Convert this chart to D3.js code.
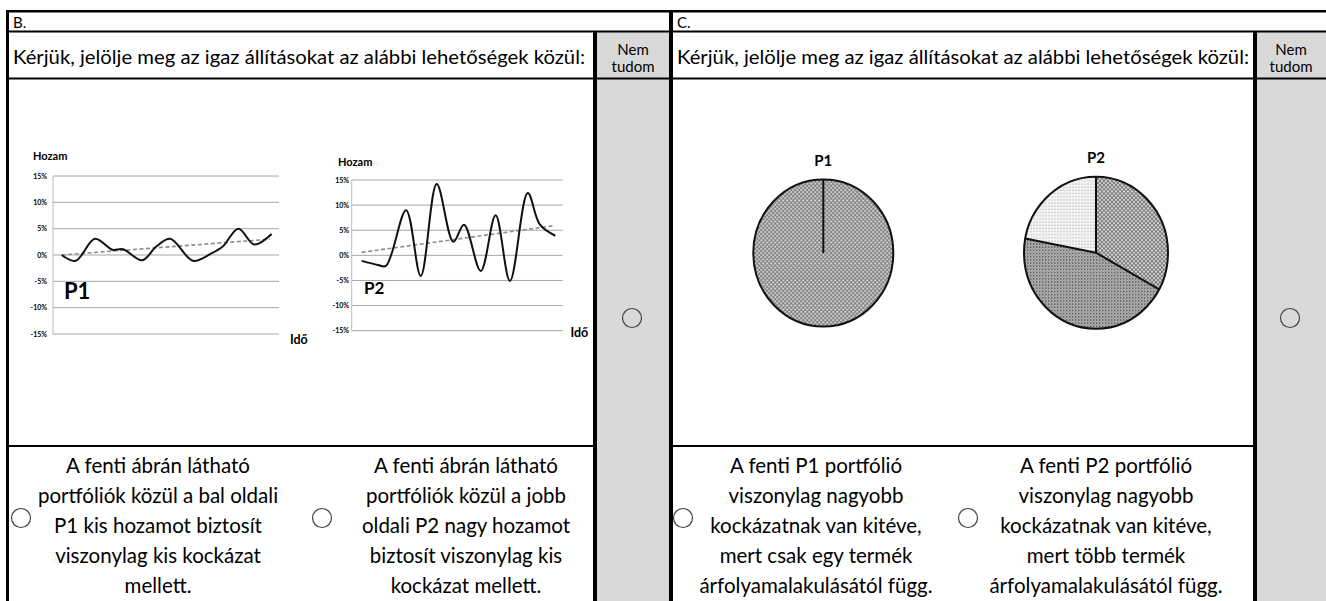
<!DOCTYPE html>
<html>
<head>
<meta charset="utf-8">
<script src="https://cdn.jsdelivr.net/npm/d3@7"></script>
<style>
  html, body { margin: 0; padding: 0; background: #fff; }
  svg { display: block; }
  text { font-family: Lato, "Open Sans", sans-serif; fill: #000; }
</style>
</head>
<body>
<svg id="chart" width="1326" height="601"></svg>
<script>
// ---------------- DATA ----------------
const yTicks = [15, 10, 5, 0, -5, -10, -15];
const yTickLabels = ["15%", "10%", "5%", "0%", "-5%", "-10%", "-15%"];

const p1Time   = [0, 0.8, 1.9, 2.9, 3.5, 4.6, 5.4, 6.2, 7.5, 8.5, 9.2, 10.1, 11.0, 12];
const p1Return = [0, -1.1, 3.1, 1.0, 1.1, -1.0, 1.6, 3.1, -1.1, 0.2, 1.6, 5.0, 2.0, 4.0];
const p1TrendTime = [0, 11.9];
const p1TrendVal  = [0, 3.0];

const p2Time   = [0, 1.0, 1.5, 2.75, 3.66, 4.65, 5.68, 6.34, 7.38, 8.3, 9.19, 10.29, 11.05, 12];
const p2Return = [-1.1, -1.9, -2.1, 9.0, -4.1, 14.2, 2.7, 6.1, -3.1, 8.0, -5.1, 12.4, 6.1, 3.9];
const p2TrendTime = [0, 11.9];
const p2TrendVal  = [0.6, 5.9];

const pieP1Values = [100];
const pieP2Values = [33, 45, 22];
const pieP1Fills = ["url(#hatch)"];
const pieP2Fills = ["url(#hatch)", "url(#darkdots)", "url(#lightdots)"];

const headerB = "B.";
const headerC = "C.";
const question = "Kérjük, jelölje meg az igaz állításokat az alábbi lehetőségek közül:";
const nemTudom = ["Nem", "tudom"];
const answersB = [
  ["A fenti ábrán látható", "portfóliók közül a bal oldali", "P1 kis hozamot biztosít", "viszonylag kis kockázat", "mellett."],
  ["A fenti ábrán látható", "portfóliók közül a jobb", "oldali P2 nagy hozamot", "biztosít viszonylag kis", "kockázat mellett."]
];
const answersC = [
  ["A fenti P1 portfólió", "viszonylag nagyobb", "kockázatnak van kitéve,", "mert csak egy termék", "árfolyamalakulásától függ."],
  ["A fenti P2 portfólió", "viszonylag nagyobb", "kockázatnak van kitéve,", "mert több termék", "árfolyamalakulásától függ."]
];

// ---------------- DRAW ----------------
const svg = d3.select("#chart");
svg.append("rect").attr("width", 1326).attr("height", 601).attr("fill", "#fff");

// patterns
const defs = svg.append("defs");
const hatch = defs.append("pattern").attr("id", "hatch").attr("patternUnits", "userSpaceOnUse")
  .attr("width", 4).attr("height", 4);
hatch.append("rect").attr("width", 4).attr("height", 4).attr("fill", "#dcdcdc");
hatch.append("path").attr("d", "M0,0L4,4M4,0L0,4").attr("stroke", "#707070").attr("stroke-width", 0.9);

const dd = defs.append("pattern").attr("id", "darkdots").attr("patternUnits", "userSpaceOnUse")
  .attr("width", 3).attr("height", 3);
dd.append("rect").attr("width", 3).attr("height", 3).attr("fill", "#b0b0b0");
dd.append("circle").attr("cx", 0.8).attr("cy", 0.8).attr("r", 0.8).attr("fill", "#555");
dd.append("circle").attr("cx", 2.3).attr("cy", 2.3).attr("r", 0.5).attr("fill", "#777");

const ld = defs.append("pattern").attr("id", "lightdots").attr("patternUnits", "userSpaceOnUse")
  .attr("width", 3).attr("height", 3);
ld.append("rect").attr("width", 3).attr("height", 3).attr("fill", "#f4f4f4");
ld.append("circle").attr("cx", 1).attr("cy", 1).attr("r", 0.55).attr("fill", "#9a9a9a");

// table background
const gray = "#d9d9d9";
svg.append("rect").attr("x", 597).attr("y", 31).attr("width", 72).attr("height", 570).attr("fill", gray);
svg.append("rect").attr("x", 1257).attr("y", 31).attr("width", 69).attr("height", 570).attr("fill", gray);

// table lines
const lines = [
  {x1: 6, y1: 11.2, x2: 1326, y2: 11.2, w: 2.6},
  {x1: 7.5, y1: 10, x2: 7.5, y2: 601, w: 3},
  {x1: 7, y1: 31.5, x2: 1326, y2: 31.5, w: 2},
  {x1: 7, y1: 78.5, x2: 1326, y2: 78.5, w: 2},
  {x1: 7, y1: 446, x2: 595, y2: 446, w: 2},
  {x1: 671, y1: 446, x2: 1255, y2: 446, w: 2},
  {x1: 595, y1: 31, x2: 595, y2: 601, w: 4},
  {x1: 671, y1: 10, x2: 671, y2: 601, w: 4},
  {x1: 1255, y1: 31, x2: 1255, y2: 601, w: 4}
];
svg.selectAll("line.tbl").data(lines).join("line").attr("class", "tbl")
  .attr("x1", d => d.x1).attr("y1", d => d.y1).attr("x2", d => d.x2).attr("y2", d => d.y2)
  .attr("stroke", "#000").attr("stroke-width", d => d.w);

// header texts
svg.append("text").attr("x", 13).attr("y", 28).attr("font-size", 15).text(headerB);
svg.append("text").attr("x", 677).attr("y", 28).attr("font-size", 15).text(headerC);
[13, 677].forEach(x => {
  svg.append("text").attr("x", x).attr("y", 64).attr("font-size", 19)
    .attr("textLength", 572).attr("lengthAdjust", "spacingAndGlyphs").text(question);
});
[633, 1291].forEach(cx => {
  nemTudom.forEach((t, i) => {
    svg.append("text").attr("x", cx).attr("y", 55 + i * 17).attr("font-size", 15)
      .attr("text-anchor", "middle").text(t);
  });
  svg.append("circle").attr("cx", cx - 1).attr("cy", 318).attr("r", 9.5)
    .attr("fill", "none").attr("stroke", "#444").attr("stroke-width", 1.2);
});

// answer texts
function answers(cols, circleXs, centerXs) {
  cols.forEach((lns, ci) => {
    svg.append("circle").attr("cx", circleXs[ci]).attr("cy", 518).attr("r", 9.5)
      .attr("fill", "#fff").attr("stroke", "#444").attr("stroke-width", 1.2);
    lns.forEach((t, li) => {
      svg.append("text").attr("x", centerXs[ci]).attr("y", 473 + li * 30)
        .attr("font-size", 20.5).attr("text-anchor", "middle").text(t);
    });
  });
}
answers(answersB, [21, 322], [158, 466]);
answers(answersC, [683, 968], [816, 1106]);

// ---------------- LINE CHARTS ----------------
function lineChart(cfg) {
  const g = svg.append("g");
  const x = d3.scaleLinear().domain([0, 12]).range(cfg.xr);
  const y = d3.scaleLinear().domain([-15, 15]).range(cfg.yr);
  g.selectAll("line.grid").data(yTicks).join("line").attr("class", "grid")
    .attr("x1", cfg.gx[0]).attr("x2", cfg.gx[1])
    .attr("y1", d => y(d)).attr("y2", d => y(d))
    .attr("stroke", "#a6a6a6").attr("stroke-width", 1);
  g.append("line").attr("x1", cfg.gx[0]).attr("x2", cfg.gx[0])
    .attr("y1", y(15)).attr("y2", y(-15)).attr("stroke", "#bdbdbd").attr("stroke-width", 1);
  g.selectAll("text.tick").data(yTicks).join("text").attr("class", "tick")
    .attr("x", cfg.tickX).attr("y", d => y(d) + 2.5)
    .attr("text-anchor", "end").attr("font-size", 7).attr("font-weight", "bold")
    .attr("fill", "#333").text((d, i) => yTickLabels[i]);
  const trend = cfg.trendT.map((t, i) => [t, cfg.trendV[i]]);
  g.append("path").attr("d", d3.line().x(d => x(d[0])).y(d => y(d[1]))(trend))
    .attr("fill", "none").attr("stroke", "#8c8c8c").attr("stroke-width", 1.6)
    .attr("stroke-dasharray", "4,2.5");
  const pts = cfg.t.map((t, i) => [t, cfg.v[i]]);
  g.append("path").attr("d", d3.line().curve(d3.curveCatmullRom.alpha(0.5))
      .x(d => x(d[0])).y(d => y(d[1]))(pts))
    .attr("fill", "none").attr("stroke", "#111").attr("stroke-width", 2);
  g.append("text").attr("x", cfg.hozam[0]).attr("y", cfg.hozam[1]).attr("font-size", 11)
    .attr("font-weight", "bold").attr("fill", "#222").text("Hozam");
  g.append("text").attr("x", cfg.ido[0]).attr("y", cfg.ido[1]).attr("font-size", 12.5)
    .attr("font-weight", "bold").attr("fill", "#222").text("Idő");
  g.append("text").attr("x", cfg.pl[0]).attr("y", cfg.pl[1]).attr("font-size", cfg.plSize)
    .attr("font-weight", "bold").attr("fill", "#111").text(cfg.name);
}
lineChart({xr: [61.7, 271.7], yr: [334, 176], gx: [53, 279], tickX: 47,
  t: p1Time, v: p1Return, trendT: p1TrendTime, trendV: p1TrendVal,
  hozam: [33, 160], ido: [290, 344], pl: [64, 299], plSize: 22, name: "P1"});
lineChart({xr: [361.7, 555.3], yr: [330.7, 180], gx: [351.7, 562.7], tickX: 349,
  t: p2Time, v: p2Return, trendT: p2TrendTime, trendV: p2TrendVal,
  hozam: [338, 166], ido: [570.5, 336.5], pl: [364, 294], plSize: 17, name: "P2"});

// ---------------- PIES ----------------
function pieChart(cfg) {
  const g = svg.append("g").attr("transform", `translate(${cfg.cx},${cfg.cy}) scale(1,${cfg.ry / cfg.r})`);
  const arcs = d3.pie().sort(null)(cfg.values);
  const arc = d3.arc().innerRadius(0).outerRadius(cfg.r);
  g.selectAll("path.slice").data(arcs).join("path").attr("class", "slice")
    .attr("d", arc).attr("fill", (d, i) => cfg.fills[i]).attr("stroke", "none");
  g.append("circle").attr("r", cfg.r).attr("fill", "none").attr("stroke", "#111")
    .attr("stroke-width", 2).attr("vector-effect", "non-scaling-stroke");
  g.selectAll("line.sep").data(arcs).join("line").attr("class", "sep")
    .attr("x1", 0).attr("y1", 0)
    .attr("x2", d => cfg.r * Math.sin(d.startAngle))
    .attr("y2", d => -cfg.r * Math.cos(d.startAngle))
    .attr("stroke", "#111").attr("stroke-width", 2).attr("vector-effect", "non-scaling-stroke");
  svg.append("text").attr("x", cfg.cx).attr("y", cfg.labelY).attr("text-anchor", "middle")
    .attr("font-size", 15).attr("font-weight", "bold").attr("fill", "#111").text(cfg.name);
}
pieChart({cx: 823.3, cy: 253, r: 70, ry: 73.5, values: pieP1Values, fills: pieP1Fills, labelY: 166, name: "P1"});
pieChart({cx: 1096, cy: 252.7, r: 72, ry: 76, values: pieP2Values, fills: pieP2Fills, labelY: 162.5, name: "P2"});
</script>
</body>
</html>
